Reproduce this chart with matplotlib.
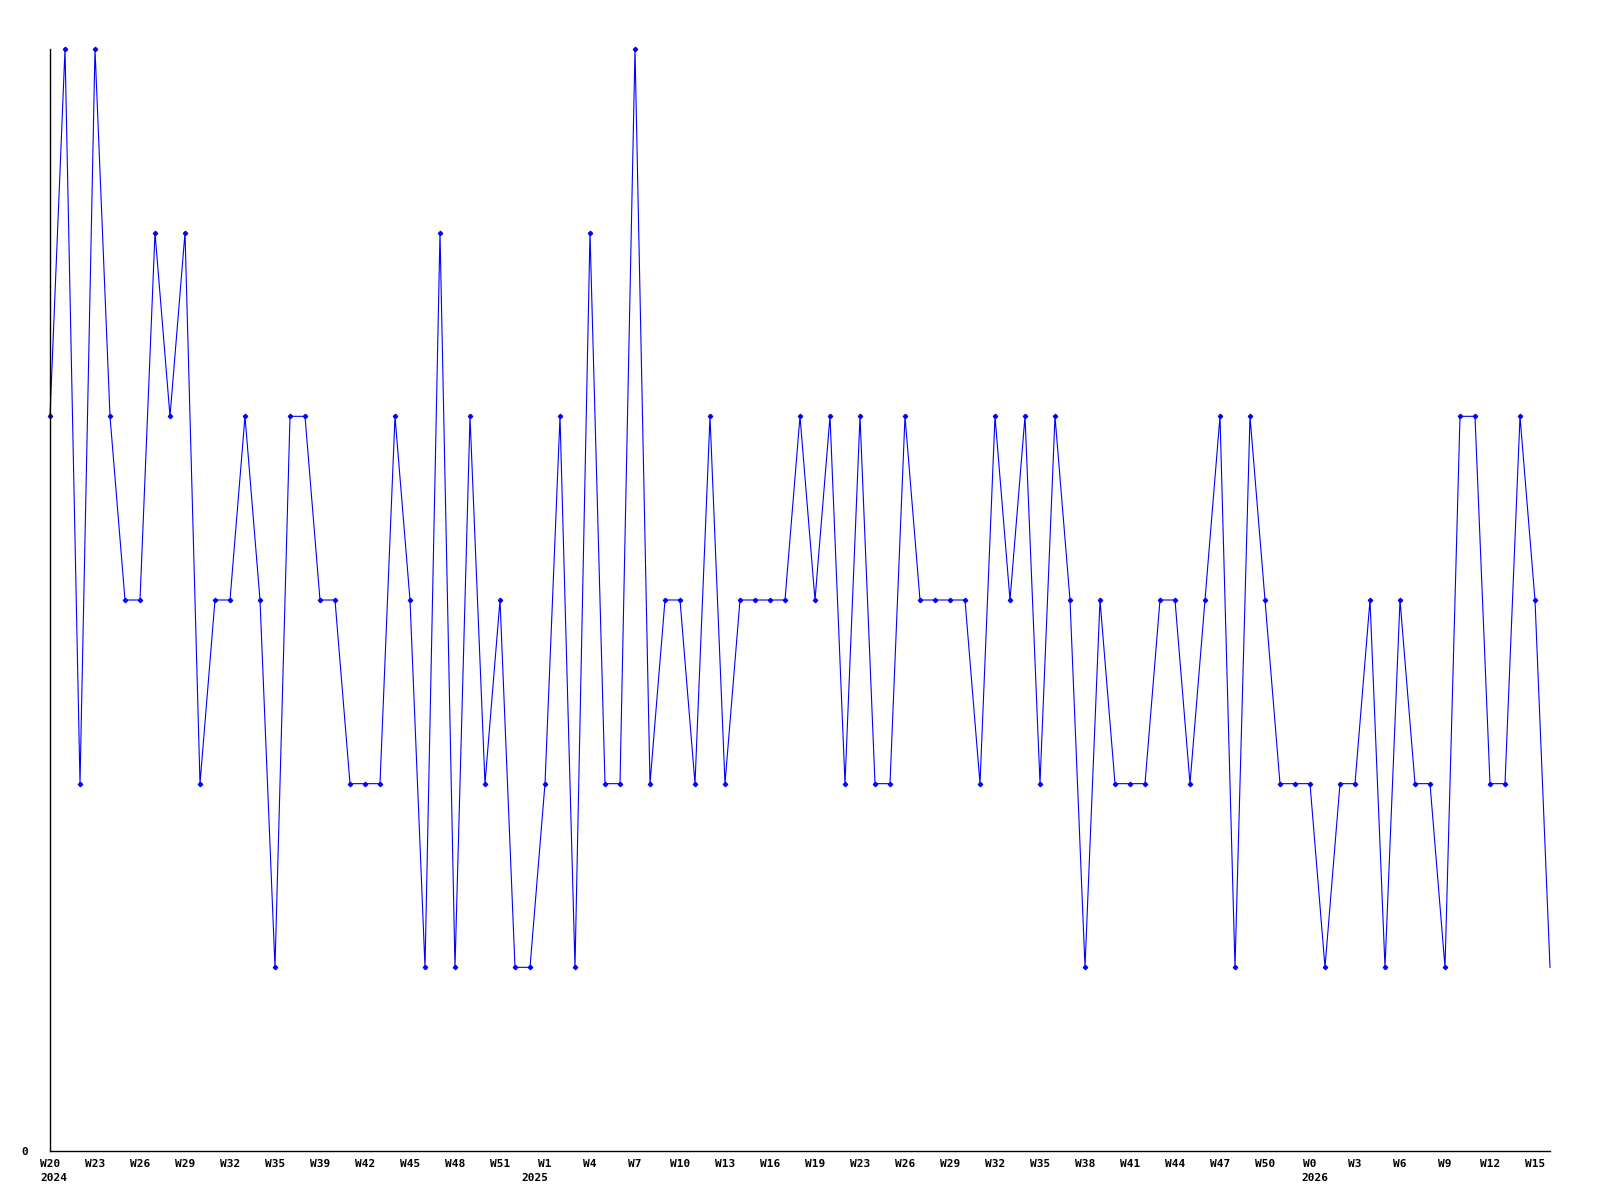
import matplotlib
matplotlib.use('Agg')
import matplotlib.pyplot as plt

# --------------------------------------- Data -------------------------------------

values = [4, 6, 2, 6, 4, 3, 3, 5, 4, 5,
          2, 3, 3, 4, 3, 1, 4, 4, 3, 3,
          2, 2, 2, 4, 3, 1, 5, 1, 4, 2,
          3, 1, 1, 2, 4, 1, 5, 2, 2, 6,
          2, 3, 3, 2, 4, 2, 3, 3, 3, 3,
          4, 3, 4, 2, 4, 2, 2, 4, 3, 3,
          3, 3, 2, 4, 3, 4, 2, 4, 3, 1,
          3, 2, 2, 2, 3, 3, 2, 3, 4, 1,
          4, 3, 2, 2, 2, 1, 2, 2, 3, 1,
          3, 2, 2, 1, 4, 4, 2, 2, 4, 3,
          1]

tick_pos = [0, 3, 6, 9, 12, 15, 18, 21, 24, 27, 30,
            33, 36, 39, 42, 45, 48, 51, 54, 57, 60, 63, 66, 69, 72, 75, 78, 81,
            84, 87, 90, 93, 96, 99]
tick_labels = ['W20', 'W23', 'W26', 'W29', 'W32', 'W35', 'W39', 'W42', 'W45', 'W48', 'W51',
               'W1', 'W4', 'W7', 'W10', 'W13', 'W16', 'W19', 'W23', 'W26', 'W29', 'W32',
               'W35', 'W38', 'W41', 'W44', 'W47', 'W50',
               'W0', 'W3', 'W6', 'W9', 'W12', 'W15']
year_pos = [0, 33, 84]
year_labels = ['2024', '2025', '2026']

# --------------------------------------- Plot -------------------------------------

font = dict(family='DejaVu Sans Mono', weight='bold', size=8)

fig = plt.figure(figsize=(16, 12), dpi=100)
ax = fig.add_axes([50 / 1600, 49 / 1200, 1500 / 1600, 1102 / 1200])

x = list(range(len(values)))
ax.plot(x, values, color='#0000ff', lw=0.8, marker='D', ms=2.2,
        markevery=list(range(len(values) - 1)), clip_on=False)

ax.set_xlim(0, len(values) - 1)
ax.set_ylim(0, 6)

for side in ['top', 'right']:
    ax.spines[side].set_visible(False)
for side in ['left', 'bottom']:
    ax.spines[side].set_linewidth(1.0)
    ax.spines[side].set_color('black')

ax.set_yticks([0])
ax.set_yticklabels(['0'], fontdict=font)
ax.tick_params(axis='y', length=0, pad=16)

ax.set_xticks(tick_pos)
ax.set_xticklabels(tick_labels, fontdict=font)
ax.tick_params(axis='x', length=0, pad=6)

# year under the first week of each year
offsets = {'2024': (-10, 'left'), '2025': (3, 'right'), '2026': (-9, 'left')}
for p, y in zip(year_pos, year_labels):
    dx, ha = offsets[y]
    ax.annotate(y, xy=(p, 0), xycoords=('data', 'axes fraction'),
                xytext=(dx, -22), textcoords='offset pixels',
                ha=ha, va='top', **font)

fig.savefig('out.png', dpi=100)
